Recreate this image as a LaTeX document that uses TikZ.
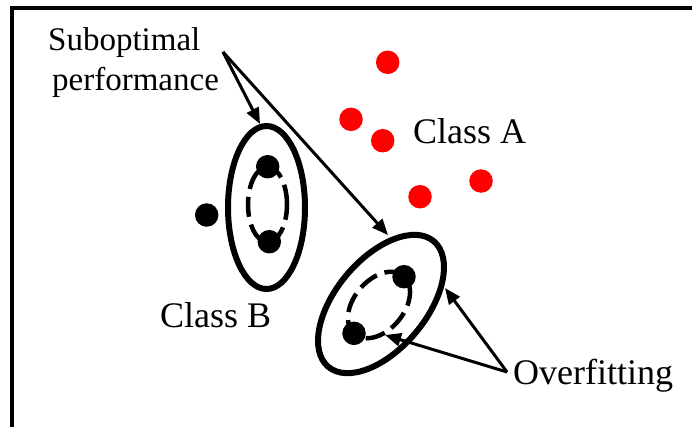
\documentclass[tikz,border=0pt]{standalone}
\usepackage{fontspec}
\setmainfont{Liberation Serif}
\usetikzlibrary{shapes.geometric,arrows.meta}
\begin{document}
\begin{tikzpicture}[x=1pt,y=-1pt,
  lbl/.style={inner sep=0pt,anchor=base west,font=\fontsize{36}{40}\selectfont},
  sublbl/.style={inner sep=0pt,anchor=base west,font=\fontsize{33}{40}\selectfont},
  reddot/.style={circle,fill=red,inner sep=0pt,minimum size=23.5pt},
  blackdot/.style={circle,fill=black,inner sep=0pt,minimum size=23.5pt},
  outerell/.style={ellipse,draw,line width=6pt,inner sep=0pt},
  innerell/.style={ellipse,draw,line width=4.5pt,inner sep=0pt,dash pattern=on 20pt off 8pt},
  arr/.style={line width=3pt,-{Triangle[length=16pt,width=13pt]}}
]
\useasboundingbox (0,0) rectangle (692,426);
% frame
\draw[line width=4pt,line join=miter] (692,8) -- (12,8) -- (12,430);
% outer ellipses
\node[outerell,minimum width=77pt,minimum height=163pt] (e1) at (266.5,207.5) {};
\node[outerell,rotate=50,minimum width=164pt,minimum height=90pt] (e2) at (381,304) {};
% inner dashed ellipses
\node[innerell,minimum width=39pt,minimum height=75pt] (d1) at (267.5,204.5) {};
\node[innerell,rotate=50,minimum width=76pt,minimum height=50pt] (d2) at (379,305) {};
% red dots
\node[reddot] (a1) at (387.7,62.3) {};
\node[reddot] (a2) at (351,119.3) {};
\node[reddot] (a3) at (382.7,140.7) {};
\node[reddot] (a4) at (420,196.7) {};
\node[reddot] (a5) at (481,181) {};
% black dots
\node[blackdot] (b1) at (267.7,166.7) {};
\node[blackdot] (b2) at (269.3,241.7) {};
\node[blackdot] (b3) at (206.7,215) {};
\node[blackdot] (b4) at (404,276.7) {};
\node[blackdot] (b5) at (354,333.3) {};
% labels
\node[sublbl] (sub1) at (48,50) {Suboptimal};
\node[sublbl] (sub2) at (52,90) {performance};
\node[lbl] (ca) at (413,143) {Class A};
\node[lbl] (cb) at (160,327) {Class B};
\node[lbl] (of) at (513,384) {Overfitting};
% arrow anchors
\coordinate (subpt) at (223,52);
\coordinate (ovpt) at (507,372);
\coordinate (t1) at (260,124);
\coordinate (t2) at (388,235);
\coordinate (t3) at (445,288);
\coordinate (t4) at (385,335);
\draw[arr] (subpt) -- (t1);
\draw[arr] (subpt) -- (t2);
\draw[arr] (ovpt) -- (t3);
\draw[arr] (ovpt) -- (t4);
\end{tikzpicture}
\end{document}
